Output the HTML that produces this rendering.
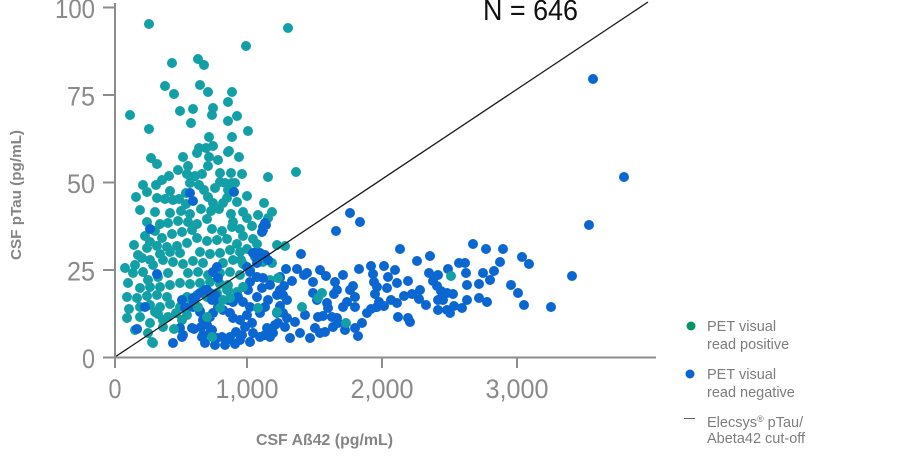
<!DOCTYPE html>
<html>
<head>
<meta charset="utf-8">
<style>
  html,body{margin:0;padding:0;background:#fff;}
  svg{display:block;}
  text{font-family:"Liberation Sans Narrow","Liberation Sans",sans-serif;}
</style>
</head>
<body>
<svg width="907" height="465" viewBox="0 0 907 465" xmlns="http://www.w3.org/2000/svg">
  <rect width="907" height="465" fill="#fff"/>

  <!-- teal (PET positive) base -->
  <path fill="none" stroke="#12a0a6" stroke-width="10" stroke-linecap="round" d="
M149 24h0M288 28h0M246 46h0M198 59h0M204 65h0M172 63h0M165 86h0M174 94h0M200 85h0M208 92h0M232 92h0
M130 115h0M180 111h0M193 109h0M191 123h0M213 108h0M212 115h0M228 102h0M237 116h0M228 121h0M149 129h0
M248 131h0M209 137h0M232 137h0M151 158h0M157 164h0M183 157h0M197 153h0M199 148h0M213 146h0M206 148h0
M209 157h0M208 166h0M228 152h0M239 157h0M229 151h0M169 176h0M178 170h0M188 166h0M187 174h0M195 176h0
M202 174h0M220 173h0M231 173h0M242 174h0M268 177h0M296 172h0M143 185h0M147 192h0M136 197h0M156 185h0
M157 198h0M165 199h0M170 191h0M173 200h0M179 199h0M190 183h0M199 185h0M204 190h0M208 197h0M215 188h0
M220 182h0M225 183h0M232 183h0M235 183h0M228 190h0M227 198h0M223 203h0M237 202h0M247 196h0M264 203h0
M272 212h0M268 218h0
M170 213h0M181 211h0M190 214h0M201 209h0M211 211h0M219 209h0M231 214h0M243 212h0
M147 222h0M168 223h0M178 221h0M188 222h0M197 224h0M207 219h0M233 222h0M247 218h0
M145 236h0M155 231h0M172 234h0M182 232h0M192 230h0M212 229h0M222 231h0M232 227h0M240 229h0
M150 242h0M162 238h0M187 243h0M197 238h0M207 241h0M217 240h0M227 239h0M237 244h0M243 236h0M253 239h0M257 244h0M247 249h0
M147 248h0M157 246h0M167 247h0M177 246h0
M160 254h0M170 252h0M180 253h0M200 252h0M210 254h0M220 253h0M230 250h0M240 252h0
M150 260h0M153 265h0M163 260h0M173 262h0M183 264h0M193 261h0M203 263h0M223 263h0M233 260h0M255 257h0M263 262h0M272 263h0
M135 265h0M133 273h0M143 272h0M158 277h0M168 273h0M188 273h0M198 272h0M208 275h0M220 273h0M230 272h0M240 275h0
M148 280h0M140 288h0M150 287h0M160 287h0M170 285h0M180 283h0M190 284h0M200 283h0M210 282h0M220 284h0M228 285h0M270 280h0M280 278h0M277 245h0
M127 297h0M137 298h0M147 296h0M157 295h0M167 297h0M187 297h0M197 295h0M207 297h0M217 293h0M237 292h0M227 290h0
M140 307h0M150 305h0M160 307h0M170 304h0M180 307h0M190 306h0
M127 318h0M140 317h0M150 323h0M158 314h0M168 317h0M176 313h0M182 320h0
M148 333h0M152 342h0M135 330h0M129 309h0M163 327h0
M138 255h0M128 283h0M134 245h0M142 258h0M160 224h0M186 204h0M213 203h0M252 226h0M258 215h0M243 264h0M250 270h0
M140 210h0M155 212h0M162 180h0M218 160h0M186 193h0M125 268h0
"/>

  <!-- blue (PET negative) -->
  <path fill="none" stroke="#0a66d0" stroke-width="10" stroke-linecap="round" d="
M593 79h0M624 177h0M589 225h0M572 276h0M551 307h0M473 244h0M350 213h0M360 222h0M336 231h0M301 254h0
M400 249h0M417 261h0M430 256h0M486 249h0M503 249h0M522 257h0M529 264h0M524 305h0M518 293h0M511 285h0
M494 271h0M483 273h0M490 280h0M479 284h0M479 298h0M487 302h0M467 300h0M465 263h0M459 263h0M466 273h0
M467 285h0M448 269h0M438 275h0M429 273h0M433 281h0M437 286h0M441 291h0M447 293h0M453 294h0M454 306h0
M447 310h0M438 310h0M450 313h0M443 300h0M438 300h0M420 290h0M419 299h0M412 294h0M408 281h0M404 296h0
M397 303h0M391 300h0M398 317h0M410 322h0M408 318h0M387 288h0M388 277h0M384 266h0M371 266h0M373 274h0
M374 282h0M377 287h0M375 294h0M377 307h0M379 302h0M384 306h0M371 309h0M367 313h0M362 323h0M358 336h0
M359 269h0M353 286h0M355 297h0M355 307h0M350 290h0M347 302h0M343 307h0M337 290h0M334 294h0M335 282h0
M326 276h0M320 270h0M313 282h0M313 293h0M317 300h0M318 317h0M323 316h0M325 332h0M320 333h0M315 328h0
M332 317h0M337 318h0M338 323h0M333 327h0M327 303h0M328 308h0M307 273h0M304 275h0M297 269h0M286 269h0
M292 281h0M284 286h0M280 290h0M277 295h0M283 295h0M287 300h0M280 306h0M277 313h0M283 313h0M287 318h0
M285 327h0M278 323h0M273 333h0M267 328h0M265 335h0M270 337h0M260 337h0M253 333h0M252 323h0M245 327h0
M242 335h0M236 332h0M230 337h0M227 340h0M222 337h0M217 338h0M212 330h0M207 325h0M210 317h0M213 313h0
M218 307h0M223 310h0M230 313h0M233 318h0M240 320h0M247 315h0M250 307h0M243 302h0M238 297h0M233 302h0
M228 300h0M220 300h0M215 295h0M212 300h0M205 290h0M200 293h0M195 298h0M193 307h0M200 312h0M203 320h0
M201 327h0M203 335h0M205 343h0M192 328h0M183 335h0M185 308h0M182 300h0M260 313h0M265 307h0M268 300h0
M257 297h0M262 288h0M270 285h0M263 278h0M257 277h0M250 282h0M248 290h0M250 272h0M257 263h0M260 253h0
M255 253h0M265 255h0M268 260h0M263 227h0M265 223h0M262 232h0M247 267h0M217 267h0M218 278h0M213 272h0
M343 275h0M280 277h0M215 345h0M235 344h0M250 342h0M290 338h0M300 333h0M310 338h0M345 330h0M355 328h0
M190 193h0M193 201h0M234 192h0M150 229h0M157 274h0M145 307h0M137 329h0M173 343h0M200 311h0M194 302h0
M186 309h0M263 230h0M266 225h0M182 337h0M180 328h0M193 298h0M187 308h0M194 329h0M207 290h0M210 293h0
M202 337h0M210 333h0M253 253h0M262 255h0M257 260h0M397 283h0M426 305h0M462 308h0M500 262h0M395 270h0
M225 345h0M240 340h0M275 325h0M295 322h0M305 315h0
"/>

  <!-- teal overlay points mixed into blue region -->
  <path fill="none" stroke="#12a0a6" stroke-width="10" stroke-linecap="round" d="
M451 276h0M346 323h0M322 293h0M318 298h0M302 307h0M212 337h0M207 317h0M198 307h0M187 315h0M220 308h0
M223 300h0M230 298h0M228 290h0M277 312h0M258 308h0M278 278h0M174 329h0M163 320h0M155 312h0M153 343h0
M243 287h0M241 260h0M285 246h0
"/>

  <!-- cut-off line -->
  <line x1="115" y1="357" x2="648" y2="2" stroke="#1a1a1a" stroke-width="1.3"/>

  <!-- axes -->
  <g stroke="#8d8d8d" stroke-width="2" fill="none">
    <line x1="115" y1="3" x2="115" y2="357.5"/>
    <line x1="103" y1="357.5" x2="656" y2="357.5"/>
    <line x1="103" y1="7.5" x2="115" y2="7.5"/>
    <line x1="103" y1="95" x2="115" y2="95"/>
    <line x1="103" y1="182.5" x2="115" y2="182.5"/>
    <line x1="103" y1="270" x2="115" y2="270"/>
    <line x1="115" y1="357.5" x2="115" y2="368"/>
    <line x1="247" y1="357.5" x2="247" y2="368"/>
    <line x1="382" y1="357.5" x2="382" y2="368"/>
    <line x1="517" y1="357.5" x2="517" y2="368"/>
  </g>

  <!-- y tick labels -->
  <g fill="#8a8a8a" font-size="27" text-anchor="end">
    <text x="95" y="18" textLength="40" lengthAdjust="spacingAndGlyphs">100</text>
    <text x="95" y="105.5" textLength="28" lengthAdjust="spacingAndGlyphs">75</text>
    <text x="95" y="193" textLength="28" lengthAdjust="spacingAndGlyphs">50</text>
    <text x="95" y="280.5" textLength="28" lengthAdjust="spacingAndGlyphs">25</text>
    <text x="95" y="368" textLength="13" lengthAdjust="spacingAndGlyphs">0</text>
  </g>

  <!-- x tick labels -->
  <g fill="#8a8a8a" font-size="27" text-anchor="middle">
    <text x="115" y="398" textLength="13" lengthAdjust="spacingAndGlyphs">0</text>
    <text x="247" y="398" textLength="63" lengthAdjust="spacingAndGlyphs">1,000</text>
    <text x="382" y="398" textLength="63" lengthAdjust="spacingAndGlyphs">2,000</text>
    <text x="517" y="398" textLength="63" lengthAdjust="spacingAndGlyphs">3,000</text>
  </g>

  <!-- axis titles -->
  <text x="324.5" y="445" fill="#858585" font-size="16" font-weight="bold" text-anchor="middle" textLength="137" lengthAdjust="spacingAndGlyphs">CSF Aß42 (pg/mL)</text>
  <text transform="translate(21,195) rotate(-90)" x="0" y="0" fill="#858585" font-size="15" font-weight="bold" text-anchor="middle" textLength="130" lengthAdjust="spacingAndGlyphs">CSF pTau (pg/mL)</text>

  <!-- N label -->
  <text x="483" y="20" fill="#111" font-size="29" textLength="95" lengthAdjust="spacingAndGlyphs">N = 646</text>

  <!-- legend -->
  <circle cx="691" cy="326" r="4.5" fill="#0a9466"/>
  <circle cx="690" cy="374" r="4.5" fill="#0a64d0"/>
  <line x1="684" y1="418.5" x2="695" y2="418.5" stroke="#666" stroke-width="1"/>
  <g fill="#7d7d7d" font-size="14.5" style="font-family:'Liberation Sans',sans-serif">
    <text x="707" y="331">PET visual</text>
    <text x="707" y="349">read positive</text>
    <text x="707" y="379">PET visual</text>
    <text x="707" y="397">read negative</text>
    <text x="707" y="427">Elecsys<tspan font-size="9" dy="-5">®</tspan><tspan dy="5"> pTau/</tspan></text>
    <text x="707" y="443">Abeta42 cut-off</text>
  </g>
</svg>
</body>
</html>
